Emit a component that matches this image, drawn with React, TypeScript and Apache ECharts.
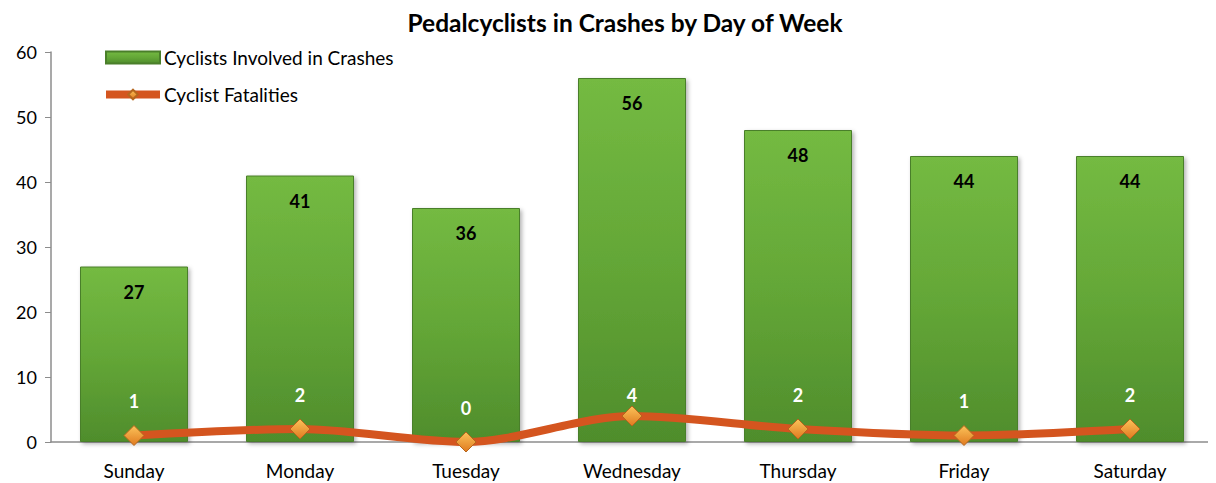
import React, { useEffect, useRef } from "react";
import * as echarts from "echarts";

const days = ["Sunday", "Monday", "Tuesday", "Wednesday", "Thursday", "Friday", "Saturday"];
const crashes = [27, 41, 36, 56, 48, 44, 44];
const fatalities = [1, 2, 0, 4, 2, 1, 2];
const yTicks = { min: 0, max: 60, interval: 10 };

const FONT = "Lato, 'Open Sans', sans-serif";
// label placement tweak for the Wednesday fatality label (style only)
const fatalityLabelDistance: Record<number, number> = { 3: 2 };

export default function App() {
  const ref = useRef<HTMLDivElement>(null);
  useEffect(() => {
    if (!ref.current) return;
    const chart = echarts.init(ref.current, undefined, { renderer: "svg" });
    const barColor = new echarts.graphic.LinearGradient(0, 0, 0, 1, [
      { offset: 0, color: "#74BA42" },
      { offset: 0.5, color: "#64A737" },
      { offset: 1, color: "#4F8D2C" },
    ]);
    const diamondColor = new echarts.graphic.LinearGradient(0, 0, 0, 1, [
      { offset: 0, color: "#FBC35A" },
      { offset: 1, color: "#E07A1F" },
    ]);
    chart.setOption({
      animation: false,
      textStyle: { fontFamily: FONT },
      title: {
        text: "Pedalcyclists in Crashes by Day of Week",
        left: 620,
        textAlign: "center",
        top: 5,
        textStyle: { fontFamily: FONT, fontSize: 24.5, fontWeight: "bold", color: "#000" },
      },
      legend: {
        orient: "vertical",
        left: 97,
        top: 43,
        itemGap: 18,
        itemWidth: 54,
        itemHeight: 12,
        textStyle: { fontFamily: FONT, fontSize: 19, color: "#000", padding: [0, 0, 0, -1] },
        data: [
          { name: "Cyclists Involved in Crashes", icon: "rect" },
          { name: "Cyclist Fatalities", lineStyle: { width: 8, color: "#D4551F" } },
        ],
      },
      grid: { left: 51, right: 3, top: 52, bottom: 41, containLabel: false },
      xAxis: {
        type: "category",
        data: days,
        axisLine: { lineStyle: { color: "#8C8C8C", width: 1.5 } },
        axisTick: { show: false },
        axisLabel: { fontFamily: FONT, fontSize: 19, color: "#000", margin: 19 },
      },
      yAxis: {
        type: "value",
        min: yTicks.min,
        max: yTicks.max,
        interval: yTicks.interval,
        splitLine: { show: false },
        axisLine: { show: true, lineStyle: { color: "#8C8C8C", width: 1.5 } },
        axisTick: { show: true, length: 6, lineStyle: { color: "#8C8C8C" } },
        axisLabel: { fontFamily: FONT, fontSize: 18, color: "#000", margin: 14 },
      },
      series: [
        {
          name: "Cyclists Involved in Crashes",
          type: "bar",
          data: crashes,
          barWidth: 108,
          itemStyle: {
            color: barColor,
            borderColor: "#4A7F2A",
            borderWidth: 1,
            shadowColor: "rgba(0,0,0,0.3)",
            shadowBlur: 4,
            shadowOffsetX: 2,
            shadowOffsetY: 2,
          },
          label: {
            show: true,
            position: "insideTop",
            distance: 16,
            fontFamily: FONT,
            fontSize: 18,
            fontWeight: "bold",
            color: "#000",
          },
          z: 2,
        },
        {
          name: "Cyclist Fatalities",
          type: "line",
          data: fatalities.map((v, i) =>
            fatalityLabelDistance[i] !== undefined
              ? { value: v, label: { distance: fatalityLabelDistance[i] } }
              : v
          ),
          smooth: 0.3,
          symbol: "diamond",
          symbolSize: [20, 20],
          lineStyle: { color: "#D4551F", width: 8 },
          itemStyle: { color: diamondColor, borderColor: "#B5651D", borderWidth: 1 },
          label: {
            show: true,
            position: "top",
            distance: 15,
            fontFamily: FONT,
            fontSize: 18,
            fontWeight: "bold",
            color: "#fff",
          },
          z: 3,
        },
      ],
    });
    return () => chart.dispose();
  }, []);
  return <div ref={ref} style={{ width: 1216, height: 483, margin: "-8px 0 0 -8px" }} />;
}
